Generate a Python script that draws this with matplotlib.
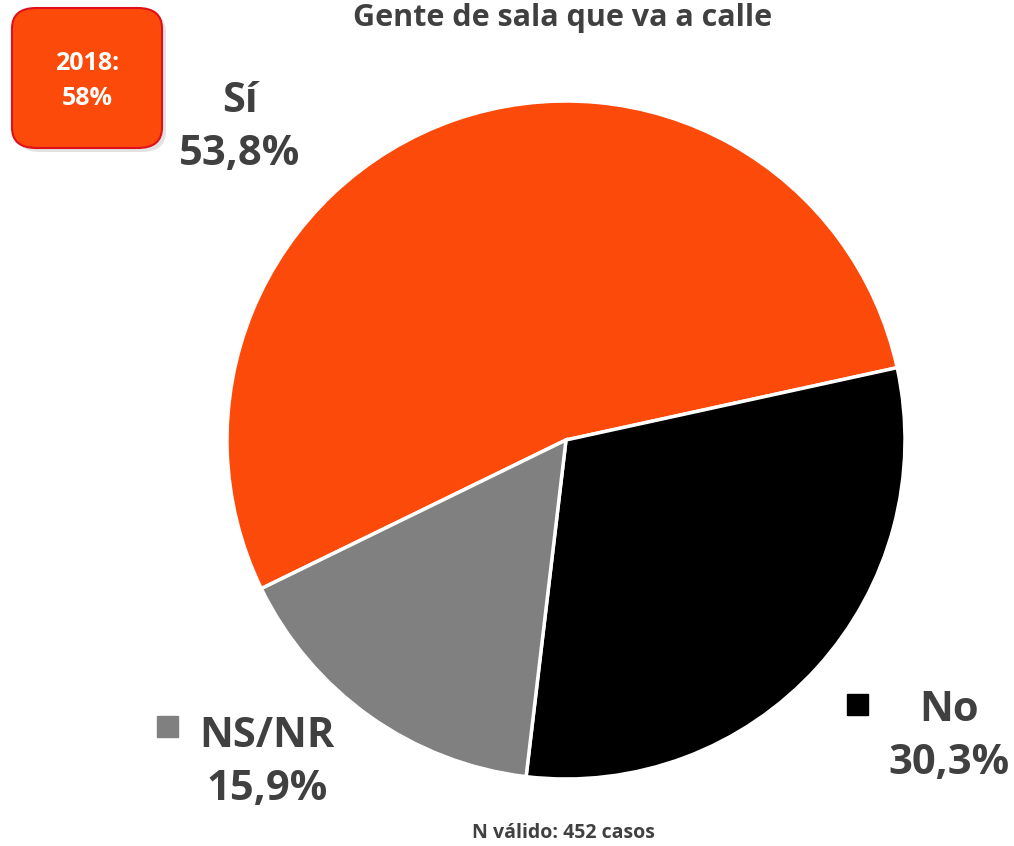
import matplotlib.pyplot as plt
from matplotlib.patches import FancyBboxPatch, Rectangle

# data
labels = ["Sí", "No", "NS/NR"]
values = [53.8, 30.3, 15.9]
colors = ["#FC4A0A", "#000000", "#808080"]
title = "Gente de sala que va a calle"
footer = "N válido: 452 casos"
prev_year = "2018:\n58%"

W, H = 1014, 846
plt.rcParams['font.family'] = ['Open Sans', 'DejaVu Sans']

fig = plt.figure(figsize=(W / 100, H / 100), dpi=100)

def fx(x):
    return x / W

def fy(y):
    return 1 - y / H

# pie axes, centre (566,440) px, radius 339 px
cx, cy, r = 566, 440, 339
ax = fig.add_axes([fx(cx - r), fy(cy + r), 2 * r / W, 2 * r / H])
ax.pie(values, colors=colors, startangle=206, counterclock=False,
       wedgeprops=dict(edgecolor="white", linewidth=2.5))
ax.set_xlim(-1, 1)
ax.set_ylim(-1, 1)
ax.set_aspect("equal")
ax.axis("off")

txt = "#404040"
fig.text(fx(563), fy(18), title, ha="center", va="center", fontsize=22,
         fontweight="bold", color=txt)
fig.text(fx(563), fy(833), footer, ha="center", va="center", fontsize=14,
         fontweight="bold", color=txt)

# slice labels
pos = {"Sí": (240, 128), "No": (949, 737), "NS/NR": (267, 763)}
for lab, v in zip(labels, values):
    x, y = pos[lab]
    s = lab + "\n" + ("%.1f" % v).replace(".", ",") + "%"
    fig.text(fx(x), fy(y), s, ha="center", va="center", fontsize=30,
             fontweight="bold", color=txt, linespacing=1.38)

# legend squares
fig.patches.append(Rectangle((fx(157), fy(737)), 21 / W, 21 / H,
                             transform=fig.transFigure, color=colors[2]))
fig.patches.append(Rectangle((fx(847), fy(715)), 21 / W, 21 / H,
                             transform=fig.transFigure, color=colors[1]))

# 2018 box
shadow = FancyBboxPatch((fx(16), fy(152)), 150 / W, 140 / H,
                        boxstyle="round,pad=0,rounding_size=0.024",
                        transform=fig.transFigure, facecolor="#d0d0d0",
                        edgecolor="none", alpha=0.6)
fig.patches.append(shadow)
box = FancyBboxPatch((fx(12), fy(148)), 150 / W, 140 / H,
                     boxstyle="round,pad=0,rounding_size=0.024",
                     transform=fig.transFigure, facecolor="#FC4A0A",
                     edgecolor="#E0101A", linewidth=1.5)
fig.patches.append(box)
fig.text(fx(87), fy(81), prev_year, ha="center", va="center", fontsize=18,
         fontweight="bold", color="white", linespacing=1.5)

fig.savefig("out.png", dpi=100)
